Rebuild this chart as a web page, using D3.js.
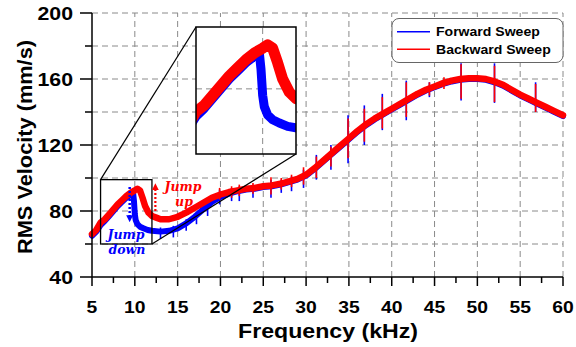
<!DOCTYPE html>
<html><head><meta charset="utf-8">
<script src="https://cdn.jsdelivr.net/npm/d3@7"></script>
<style>body{margin:0;background:#fff}svg{display:block}</style>
</head><body><svg id="c" width="576" height="347"></svg>
<script>
// ---------- data ----------
const backFreq = [5,5.5,6,6.5,7,7.5,8,8.5,9,9.5,10,10.3,10.6,10.9,11.2,11.6,12,12.5,13,14,15,16,17,18,19,20,21,22,23,24,25,26,27,28,29,30,31,32,33,34,35,36,37,38,39,40,41,42,43,44,45,46,47,48,49,50,51,52,53,54,55,56,57,58,59,60];
const backVel  = [66,68.5,73,75,78,81,84,86.5,89,91,92.5,93.5,92.5,88,83,79,77,76,75,75,76.5,79,82,85,88,90,91.5,92.5,93.5,94,95,95.5,96.5,98,99.5,102,106,110.5,115,119.5,124,128.5,132.5,136,139,142,145,148,151,153.5,155.5,157.5,159,160,160.5,160.5,160,158.5,156.5,153.5,150.5,148,145.5,143,140.5,138];
const fwdFreq  = [5,5.5,6,6.5,7,7.5,8,8.5,9,9.5,9.8,9.9,10,10.1,10.3,10.6,11,11.5,12,13,14,15,16,17,18,19,20,21,22,23,24,25,26,27,28,29,30,31,32,33,34,35,36,37,38,39,40,41,42,43,44,45,46,47,48,49,50,51,52,53,54,55,56,57,58,59,60];
const fwdVel   = [65,67.5,71.5,74,77,80,83,85.5,88,90,91,86,78,74.5,72,70.5,69.5,68.5,68,67.5,68,69.5,72.5,76.5,81,85.5,88.5,90.5,92,93,93.5,94.5,95,96,97.5,99,101.5,105.5,110,114.5,119,123.5,128,132,135.5,138.5,141.5,144.5,147.5,150.5,153,155,157,158.5,159.5,160,160,159.5,158,156,153,150,147.5,145,142.5,140,137.5];
// spikes: [frequency, high, low]
const backSpikes = [[19.9,94,87],[21.3,95,88],[22.2,96,89],[23.8,97,90.5],[25.9,100.5,90],[27.1,100,93],[28.3,102,94.5],[29.7,106.5,96],[31.2,113,100],[32.9,119,107],[34.9,136,112],[36.8,142,122],[38.9,149,130],[41.7,158,137],[44.4,158,150],[46.1,161,154],[48.1,169,148],[52.0,168,146],[56.8,157,140]];
const fwdSpikes = [[13,70,63],[14.5,71,64],[16,75,68],[17.2,79,72],[18.5,84,77],[19.9,93,84],[21.3,94,86],[22.2,95,86],[23.8,96,88],[25.9,99,88],[27.1,99,91],[28.3,101,92],[29.7,105,94],[31.2,114,99],[32.9,120,105],[34.9,138,109],[36.8,144,120],[38.9,151,129],[41.7,159,135],[44.4,158,149],[48.1,169.5,147],[52.0,169.5,145.5],[56.8,158,140]];
const xTicks = [5,10,15,20,25,30,35,40,45,50,55,60];
const xMinor = [7.5,12.5,17.5,22.5,27.5,32.5,37.5,42.5,47.5,52.5,57.5];
const yTicks = [40,80,120,160,200];
const yMinor = [60,100,140,180];
const gridY = [60,80,100,120,140,160,180,200];
const gridX = [10,15,20,25,30,35,40,45,50,55,60];
const seriesNames = ["Forward Sweep","Backward Sweep"];
const zoomBox = {f0:6, f1:12, v0:60, v1:99};
const jumpUp = {f:12.4, from:80, to:96.5};
const jumpDown = {f:9.4, from:94.5, to:73.5};

// ---------- layout ----------
const svg = d3.select("#c");
const X0=92, X1=563, Y0=277, Y1=13;
const x = d3.scaleLinear().domain([5,60]).range([X0,X1]);
const y = d3.scaleLinear().domain([40,200]).range([Y0,Y1]);
const BLUE="#0000ff", RED="#ff0000";
const sans="'Liberation Sans', Arial, sans-serif";

function stretch(sel,k){sel.each(function(){const w=this.getComputedTextLength();this.setAttribute("textLength",w*k);this.setAttribute("lengthAdjust","spacingAndGlyphs");});}

// grid
const g = svg.append("g");
g.selectAll(".gy").data(gridY).join("line").attr("x1",X0).attr("x2",X1).attr("y1",d=>y(d)).attr("y2",d=>y(d))
 .attr("stroke","#8a8a8a").attr("stroke-width",1).attr("stroke-dasharray","6,4");
g.selectAll(".gx").data(gridX).join("line").attr("y1",Y0).attr("y2",Y1).attr("x1",d=>x(d)).attr("x2",d=>x(d))
 .attr("stroke","#8a8a8a").attr("stroke-width",1).attr("stroke-dasharray","6,4");

function drawSeries(parent, xs, ys, F, V, S, color, w, sw){
  const data = F.map((f,i)=>[f,V[i]]);
  parent.append("path").datum(data).attr("fill","none").attr("stroke",color).attr("stroke-width",w)
    .attr("stroke-linejoin","round").attr("stroke-linecap","round")
    .attr("d",d3.line().x(d=>xs(d[0])).y(d=>ys(d[1])));
  parent.selectAll(null).data(S).join("line").attr("x1",d=>xs(d[0])).attr("x2",d=>xs(d[0]))
    .attr("y1",d=>ys(d[1])).attr("y2",d=>ys(d[2])).attr("stroke",color).attr("stroke-width",sw);
}
const main = svg.append("g");
drawSeries(main,x,y,fwdFreq,fwdVel,fwdSpikes,BLUE,6,1.6);
drawSeries(main,x,y,backFreq,backVel,backSpikes,RED,6.5,1.6);

// zoom box in main chart
svg.append("rect").attr("x",x(zoomBox.f0)).attr("y",y(zoomBox.v1)).attr("width",x(zoomBox.f1)-x(zoomBox.f0)).attr("height",y(zoomBox.v0)-y(zoomBox.v1))
  .attr("fill","none").attr("stroke","#000").attr("stroke-width",1.3);

// inset
const IX0=196, IX1=296, IY0=154, IY1=27;
const xi = d3.scaleLinear().domain([zoomBox.f0,zoomBox.f1]).range([IX0,IX1]);
const yi = d3.scaleLinear().domain([zoomBox.v0,zoomBox.v1]).range([IY0,IY1]);
svg.append("line").attr("x1",x(zoomBox.f0)).attr("y1",y(zoomBox.v1)).attr("x2",IX0).attr("y2",IY1).attr("stroke","#000").attr("stroke-width",1.2);
svg.append("line").attr("x1",x(zoomBox.f1)).attr("y1",y(zoomBox.v0)).attr("x2",IX1).attr("y2",IY0).attr("stroke","#000").attr("stroke-width",1.2);
svg.append("rect").attr("x",IX0).attr("y",IY1).attr("width",IX1-IX0).attr("height",IY0-IY1).attr("fill","#fff");
svg.append("clipPath").attr("id","ic").append("rect").attr("x",IX0).attr("y",IY1).attr("width",IX1-IX0).attr("height",IY0-IY1);
const ig = svg.append("g").attr("clip-path","url(#ic)");
ig.selectAll(".igx").data(gridX.filter(d=>d>zoomBox.f0&&d<zoomBox.f1)).join("line").attr("x1",d=>xi(d)).attr("x2",d=>xi(d)).attr("y1",IY0).attr("y2",IY1)
  .attr("stroke","#8a8a8a").attr("stroke-dasharray","6,4");
ig.selectAll(".igy").data(gridY.filter(d=>d>zoomBox.v0&&d<zoomBox.v1)).join("line").attr("y1",d=>yi(d)).attr("y2",d=>yi(d)).attr("x1",IX0).attr("x2",IX1)
  .attr("stroke","#8a8a8a").attr("stroke-dasharray","6,4");
drawSeries(ig,xi,yi,fwdFreq,fwdVel,fwdSpikes,BLUE,9,2);
drawSeries(ig,xi,yi,backFreq,backVel,backSpikes,RED,11,2);
svg.append("rect").attr("x",IX0).attr("y",IY1).attr("width",IX1-IX0).attr("height",IY0-IY1).attr("fill","none").attr("stroke","#000").attr("stroke-width",1.5);

// jump annotations
const defs = svg.append("defs");
[["ahR",RED],["ahB",BLUE]].forEach(([id,c])=>{
  defs.append("marker").attr("id",id).attr("viewBox","0 0 10 10").attr("refX",5).attr("refY",5).attr("markerWidth",7).attr("markerHeight",7)
   .attr("orient","auto").attr("markerUnits","userSpaceOnUse").append("path").attr("d","M0,0L10,5L0,10z").attr("fill",c);
});
svg.append("line").attr("x1",x(jumpUp.f)).attr("x2",x(jumpUp.f)).attr("y1",y(jumpUp.from)).attr("y2",y(jumpUp.to)+3)
  .attr("stroke",RED).attr("stroke-width",2.2).attr("stroke-dasharray","2,2").attr("marker-end","url(#ahR)");
svg.append("line").attr("x1",x(jumpDown.f)).attr("x2",x(jumpDown.f)).attr("y1",y(jumpDown.from)).attr("y2",y(jumpDown.to)-3)
  .attr("stroke",BLUE).attr("stroke-width",2.5).attr("stroke-dasharray","2,2").attr("marker-end","url(#ahB)");
const serif="'DejaVu Serif', serif";
function ann(t,xx,yy,c){return svg.append("text").attr("x",xx).attr("y",yy).attr("fill",c).attr("font-family",serif).attr("font-style","italic").attr("font-weight","bold").attr("font-size",12.5).attr("text-anchor","middle").text(t);}
ann("Jump",183,191,RED); ann("up",184,206,RED);
ann("Jump",126,239,BLUE); ann("down",127,254,BLUE);

// axes
svg.append("line").attr("x1",X0).attr("x2",X0).attr("y1",Y0).attr("y2",Y1).attr("stroke","#000").attr("stroke-width",1.5);
svg.append("line").attr("x1",X0).attr("x2",X1).attr("y1",Y0).attr("y2",Y0).attr("stroke","#000").attr("stroke-width",1.5);
svg.selectAll(".yt").data(yTicks).join("line").attr("x1",X0-12).attr("x2",X0).attr("y1",d=>y(d)).attr("y2",d=>y(d)).attr("stroke","#000").attr("stroke-width",1.5);
svg.selectAll(".ym").data(yMinor).join("line").attr("x1",X0-7).attr("x2",X0).attr("y1",d=>y(d)).attr("y2",d=>y(d)).attr("stroke","#000").attr("stroke-width",1.5);
svg.selectAll(".xt").data(xTicks).join("line").attr("y1",Y0).attr("y2",Y0+9).attr("x1",d=>x(d)).attr("x2",d=>x(d)).attr("stroke","#000").attr("stroke-width",1.5);
svg.selectAll(".xm").data(xMinor).join("line").attr("y1",Y0).attr("y2",Y0+6).attr("x1",d=>x(d)).attr("x2",d=>x(d)).attr("stroke","#000").attr("stroke-width",1.5);
const ytl = svg.selectAll(".ytl").data(yTicks).join("text").attr("x",73).attr("y",d=>y(d)).attr("dy","0.36em").attr("text-anchor","end")
  .attr("font-family",sans).attr("font-weight","bold").attr("font-size",18.5).text(d=>d);
stretch(ytl,1.15);
const xtl = svg.selectAll(".xtl").data(xTicks).join("text").attr("x",d=>x(d)).attr("y",313).attr("text-anchor","middle")
  .attr("font-family",sans).attr("font-weight","bold").attr("font-size",16.5).text(d=>d);
stretch(xtl,1.17);
svg.append("text").attr("x",328).attr("y",338).attr("text-anchor","middle").attr("font-family",sans).attr("font-weight","bold").attr("font-size",21)
  .attr("textLength",180).attr("lengthAdjust","spacingAndGlyphs").text("Frequency (kHz)");
svg.append("text").attr("transform","translate(32,147) rotate(-90)").attr("text-anchor","middle").attr("font-family",sans).attr("font-weight","bold").attr("font-size",21)
  .attr("textLength",214).attr("lengthAdjust","spacingAndGlyphs").text("RMS Velocity (mm/s)");

// legend
const lg = svg.append("g");
lg.append("rect").attr("x",392).attr("y",18.5).attr("width",171).attr("height",44).attr("rx",7).attr("fill","#fff").attr("stroke","#666").attr("stroke-width",1);
[BLUE,RED].forEach((c,i)=>{
  const yy = 31.7 + i*17.6;
  lg.append("line").attr("x1",397).attr("x2",430).attr("y1",yy).attr("y2",yy).attr("stroke",c).attr("stroke-width",1.6);
  const t = lg.append("text").attr("x",436).attr("y",yy+4.6).attr("font-family",sans).attr("font-weight","bold").attr("font-size",13.5).text(seriesNames[i]);
  stretch(t,1.04);
});
</script></body></html>
